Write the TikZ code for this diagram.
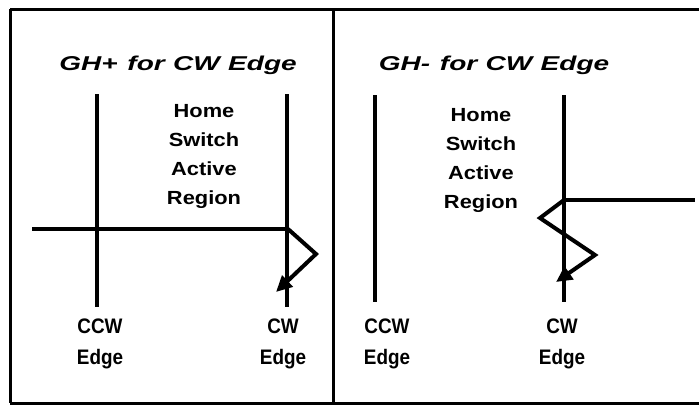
\documentclass[tikz,border=0pt]{standalone}
\usepackage{fontspec}
\setmainfont{Liberation Sans}
\usetikzlibrary{arrows.meta}
\begin{document}
\begin{tikzpicture}[x=1pt,y=-1pt,
  frame/.style={line width=3pt},
  edgeline/.style={line width=3.8pt},
  motion/.style={line width=4pt,line join=miter,-{Triangle[length=16pt,width=15pt]}},
  ttl/.style={font=\fontsize{20}{22}\selectfont\bfseries\itshape,inner sep=0pt},
  reg/.style={font=\fontsize{19}{29}\selectfont\bfseries,align=center,inner sep=0pt},
  lab/.style={font=\fontsize{21}{31}\selectfont\bfseries,align=center,inner sep=0pt}]
\useasboundingbox (0,0) rectangle (699,407);
% frame
\draw[frame] (10,9) -- (699,9);
\draw[frame] (10,403) -- (699,403);
\draw[frame] (10,9) -- (10,403);
\draw[frame] (333,9) -- (333,403);
% ---------- left panel ----------
\node[ttl] (t1) at (178,65) {\scalebox{1.4}[1]{GH+\hspace{7pt}for\hspace{6pt}CW\hspace{6pt}Edge}};
\coordinate (lccwT) at (97,94);
\coordinate (lccwB) at (97,307);
\coordinate (lcwT) at (287,94);
\coordinate (lcwB) at (287,307);
\draw[edgeline] (lccwT) -- (lccwB);
\draw[edgeline] (lcwT) -- (lcwB);
\node[reg] (r1) at (204,156) {\scalebox{1.15}[1]{Home}\\\scalebox{1.15}[1]{Switch}\\\scalebox{1.15}[1]{Active}\\\scalebox{1.15}[1]{Region}};
\coordinate (lstart) at (32,229);
\coordinate (lcorner) at (288,229);
\coordinate (lright) at (316,254);
\coordinate (ltip) at (276,292);
\draw[edgeline] (lstart) -- (lcorner);
\draw[motion] (lcorner) -- (lright) -- (ltip);
\node[lab] (l1) at (100,344) {\scalebox{0.9}[1]{CCW}\\\scalebox{0.9}[1]{Edge}};
\node[lab] (l2) at (283,344) {\scalebox{0.9}[1]{CW}\\\scalebox{0.9}[1]{Edge}};
% ---------- right panel ----------
\node[ttl] (t2) at (494,65) {\scalebox{1.4}[1]{GH-\hspace{7pt}for\hspace{6pt}CW\hspace{6pt}Edge}};
\coordinate (rccwT) at (375,95);
\coordinate (rccwB) at (375,302);
\coordinate (rcwT) at (564,95);
\coordinate (rcwB) at (564,302);
\draw[edgeline] (rccwT) -- (rccwB);
\draw[edgeline] (rcwT) -- (rcwB);
\node[reg] (r2) at (481,160) {\scalebox{1.15}[1]{Home}\\\scalebox{1.15}[1]{Switch}\\\scalebox{1.15}[1]{Active}\\\scalebox{1.15}[1]{Region}};
\coordinate (rend) at (695,200);
\coordinate (rcorner) at (564,200);
\coordinate (rleft) at (540,218);
\coordinate (rright) at (595,255);
\coordinate (rtip) at (556,282);
\draw[edgeline] (rcorner) -- (rend);
\draw[motion] (rcorner) -- (rleft) -- (rright) -- (rtip);
\node[lab] (l3) at (387,344) {\scalebox{0.9}[1]{CCW}\\\scalebox{0.9}[1]{Edge}};
\node[lab] (l4) at (562,344) {\scalebox{0.9}[1]{CW}\\\scalebox{0.9}[1]{Edge}};
\end{tikzpicture}
\end{document}
